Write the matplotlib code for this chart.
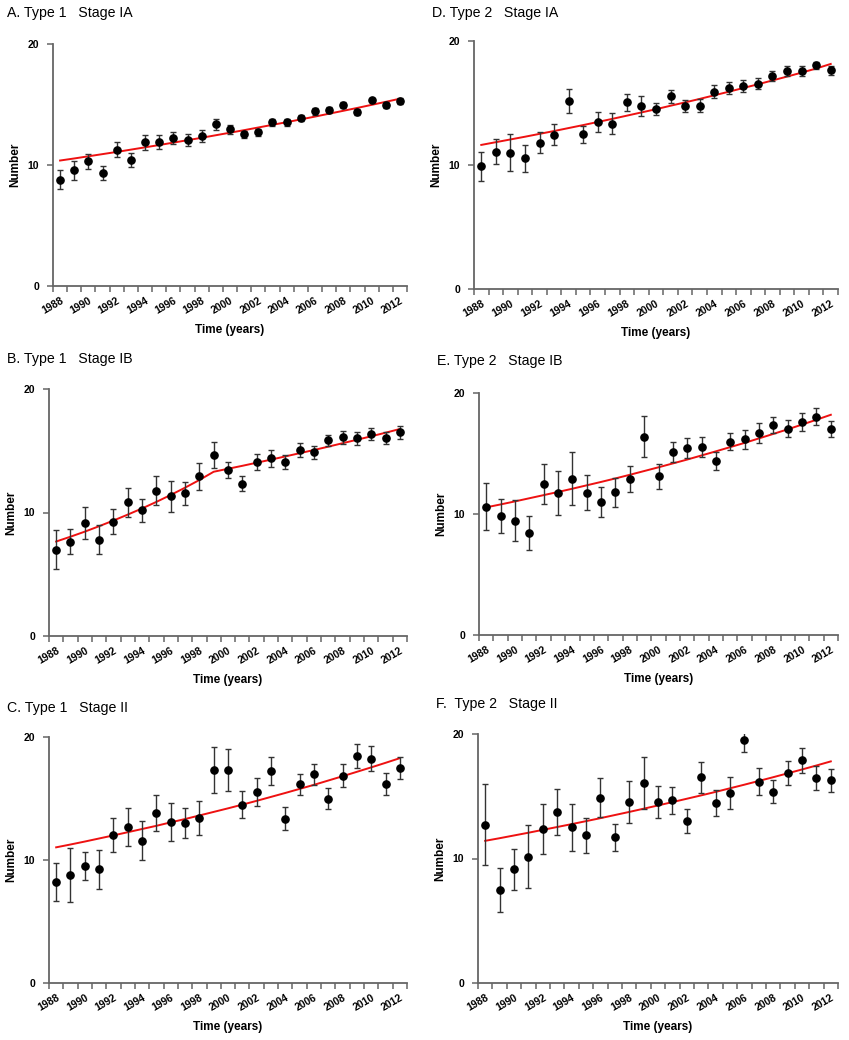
import matplotlib
matplotlib.use("Agg")
import matplotlib.pyplot as plt
import numpy as np

plt.rcParams['font.family'] = ['Liberation Sans', 'DejaVu Sans']

# categories (one per year)
years = list(range(1988, 2013))
year_labels = [str(y) for y in years[::2]]

# A. Type 1 Stage IA
a_val = [8.8, 9.57, 10.3, 9.35, 11.28, 10.4, 11.86, 11.9, 12.25, 12.03, 12.39, 13.35, 12.94,
         12.55, 12.69, 13.52, 13.52, 13.88, 14.43, 14.54, 14.95, 14.37, 15.37, 14.92, 15.26]
a_err = [0.8, 0.8, 0.6, 0.6, 0.6, 0.6, 0.6, 0.6, 0.5, 0.5, 0.5, 0.45, 0.35,
         0.3, 0.3, 0.3, 0.3, 0.25, 0.3, 0.25, 0.25, 0.25, 0.2, 0.25, 0.25]
a_fit = [10.37, 10.54, 10.72, 10.90, 11.08, 11.27, 11.46, 11.65, 11.85, 12.05, 12.25, 12.46, 12.67,
         12.88, 13.10, 13.32, 13.54, 13.77, 14.00, 14.24, 14.48, 14.72, 14.97, 15.22, 15.48]

# B. Type 1 Stage IB
b_val = [7.0, 7.65, 9.16, 7.81, 9.27, 10.81, 10.19, 11.76, 11.32, 11.54, 12.92, 14.68, 13.43,
         12.32, 14.08, 14.38, 14.08, 15.05, 14.86, 15.84, 16.08, 16.0, 16.35, 16.03, 16.49]
b_err = [1.57, 1.03, 1.32, 1.15, 1.0, 1.15, 0.92, 1.19, 1.24, 0.95, 1.12, 1.05, 0.66,
         0.6, 0.63, 0.69, 0.57, 0.58, 0.5, 0.45, 0.5, 0.5, 0.5, 0.5, 0.5]
b_fit = [7.65, 8.04, 8.45, 8.89, 9.35, 9.83, 10.33, 10.86, 11.42, 12.01, 12.63, 13.30, 13.54,
         13.78, 14.03, 14.28, 14.54, 14.80, 15.06, 15.33, 15.61, 15.89, 16.17, 16.46, 16.76]

# C. Type 1 Stage II
c_val = [8.21, 8.78, 9.51, 9.24, 12.06, 12.66, 11.57, 13.82, 13.09, 13.01, 13.41, 17.32, 17.32,
         14.5, 15.53, 17.24, 13.36, 16.15, 16.96, 14.99, 16.86, 18.46, 18.24, 16.18, 17.48]
c_err = [1.57, 2.2, 1.17, 1.57, 1.37, 1.54, 1.59, 1.5, 1.53, 1.2, 1.36, 1.9, 1.73,
         1.1, 1.15, 1.15, 0.92, 0.87, 0.87, 0.84, 0.92, 0.94, 1.02, 0.87, 0.9]
c_fit = [11.03, 11.26, 11.50, 11.75, 12.00, 12.26, 12.52, 12.78, 13.06, 13.33, 13.62, 13.91, 14.20,
         14.50, 14.81, 15.13, 15.45, 15.78, 16.11, 16.46, 16.81, 17.17, 17.53, 17.90, 18.28]

# D. Type 2 Stage IA
d_val = [9.88, 11.06, 11.0, 10.55, 11.81, 12.43, 15.14, 12.48, 13.5, 13.32, 15.06, 14.79, 14.52,
         15.54, 14.77, 14.79, 15.92, 16.21, 16.38, 16.54, 17.21, 17.58, 17.61, 18.04, 17.64]
d_err = [1.2, 1.0, 1.5, 1.1, 0.85, 0.85, 0.95, 0.7, 0.8, 0.85, 0.7, 0.8, 0.5,
         0.5, 0.5, 0.5, 0.5, 0.5, 0.5, 0.45, 0.4, 0.4, 0.4, 0.3, 0.35]
d_fit = [11.62, 11.84, 12.06, 12.28, 12.51, 12.74, 12.98, 13.22, 13.47, 13.72, 13.98, 14.24, 14.50,
         14.78, 15.05, 15.33, 15.62, 15.91, 16.21, 16.51, 16.82, 17.13, 17.45, 17.78, 18.15]

# E. Type 2 Stage IB
e_val = [10.6, 9.86, 9.45, 8.46, 12.47, 11.73, 12.91, 11.76, 10.99, 11.79, 12.91, 16.4, 13.1,
         15.11, 15.44, 15.55, 14.37, 15.99, 16.18, 16.7, 17.36, 17.03, 17.61, 18.05, 17.06]
e_err = [1.94, 1.41, 1.7, 1.41, 1.68, 1.83, 2.2, 1.47, 1.24, 1.2, 1.07, 1.73, 1.03,
         0.85, 0.84, 0.85, 0.73, 0.74, 0.77, 0.81, 0.65, 0.7, 0.71, 0.7, 0.66]
e_fit = [10.55, 10.79, 11.04, 11.30, 11.56, 11.82, 12.09, 12.37, 12.65, 12.94, 13.24, 13.55, 13.86,
         14.18, 14.50, 14.84, 15.18, 15.53, 15.88, 16.25, 16.62, 17.00, 17.39, 17.79, 18.20]

# F. Type 2 Stage II
f_val = [12.71, 7.45, 9.12, 10.16, 12.36, 13.7, 12.49, 11.85, 14.88, 11.69, 14.56, 16.06, 14.56,
         14.66, 13.03, 16.51, 14.45, 15.25, 19.52, 16.17, 15.36, 16.84, 17.88, 16.46, 16.27]
f_err = [3.24, 1.77, 1.68, 2.5, 2.0, 1.85, 1.86, 1.37, 1.57, 1.06, 1.68, 2.06, 1.27,
         1.11, 0.97, 1.27, 1.07, 1.27, 0.97, 1.1, 0.94, 0.97, 0.99, 0.97, 0.93]
f_fit = [11.42, 11.63, 11.85, 12.07, 12.30, 12.53, 12.76, 13.00, 13.24, 13.49, 13.74, 14.00, 14.26,
         14.53, 14.80, 15.07, 15.35, 15.64, 15.93, 16.23, 16.53, 16.84, 17.15, 17.47, 17.80]

titles = ["A. Type 1   Stage IA", "B. Type 1   Stage IB", "C. Type 1   Stage II",
          "D. Type 2   Stage IA", "E. Type 2   Stage IB", "F.  Type 2   Stage II"]

W, H = 849, 1040
# axes boxes in pixels: left, top, right, bottom ; title anchor x, y
boxes = [(53, 44, 407, 286, 7, 13), (49, 389, 407, 636, 7, 359), (49, 737, 407, 983, 7, 708),
         (474, 41, 838, 289, 432, 13), (479, 393, 838, 635, 437, 361), (478, 734, 838, 983, 436, 704)]
values = [a_val, b_val, c_val, d_val, e_val, f_val]
errors = [a_err, b_err, c_err, d_err, e_err, f_err]
fits = [a_fit, b_fit, c_fit, d_fit, e_fit, f_fit]

fig = plt.figure(figsize=(W / 100, H / 100), dpi=100)
x = np.arange(len(years))
spine_col = '#666666'

for i in range(6):
    l, t, r, b, tx, ty = boxes[i]
    ax = fig.add_axes([l / W, 1 - b / H, (r - l) / W, (b - t) / H])
    ax.plot(x, fits[i], color='#ee1111', lw=1.4, zorder=2)
    ax.errorbar(x, values[i], yerr=errors[i], fmt='o', color='black', ms=5.2,
                ecolor='#333333', elinewidth=1.0, capsize=2, capthick=1.0, zorder=3)
    ax.set_xlim(-0.5, 24.5)
    ax.set_ylim(0, 20)
    ax.set_yticks([0, 10, 20])
    ax.set_yticklabels(['0', '10', '20'], fontsize=7.5, fontweight='bold')
    ax.set_xticks(x[::2])
    ax.set_xticklabels(year_labels, rotation=30, ha='right', va='top',
                       rotation_mode='anchor', fontsize=7.5, fontweight='bold')
    ax.set_xticks(np.arange(-0.5, 25, 1), minor=True)
    ax.tick_params(axis='x', which='major', length=0, pad=7)
    ax.tick_params(axis='x', which='minor', length=4, color=spine_col, width=1.1)
    ax.tick_params(axis='y', length=4, color=spine_col, width=1.1, pad=6)
    for s in ['top', 'right']:
        ax.spines[s].set_visible(False)
    for s in ['left', 'bottom']:
        ax.spines[s].set_color(spine_col)
        ax.spines[s].set_linewidth(1.3)
    ax.set_xlabel('Time (years)', fontsize=8.5, fontweight='bold')
    ax.set_ylabel('Number', fontsize=8.5, fontweight='bold')
    ax.xaxis.set_label_coords(0.5, -44 / (b - t))
    ax.yaxis.set_label_coords(-38 / (r - l), 0.5)
    ax.xaxis.label.set_va('center')
    ax.yaxis.label.set_va('center')
    fig.text(tx / W, 1 - ty / H, titles[i], fontsize=10.2, ha='left', va='center')

fig.savefig('out.png', dpi=100)
